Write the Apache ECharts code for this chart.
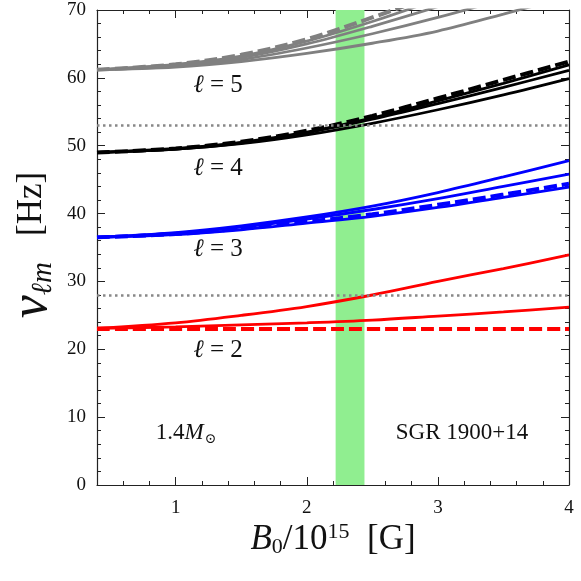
<!DOCTYPE html>
<html>
<head>
<meta charset="utf-8">
<script src="https://cdn.jsdelivr.net/npm/echarts@6/dist/echarts.min.js"></script>
<style>
  html, body { margin: 0; padding: 0; background: #fff; }
  #main { width: 581px; height: 581px; }
</style>
</head>
<body>
<div id="main"></div>
<script>
// field strength B0 / 1e15 G
var B0 = [0.4, 1.0, 1.5, 2.0, 2.5, 3.0, 3.5, 4.0];

// l = 2 (red)
var l2_a = [23.1, 23.9, 25.0, 26.3, 28.0, 30.0, 31.9, 33.9];
var l2_b = [23.1, 23.3, 23.6, 23.9, 24.3, 24.9, 25.5, 26.2];
var l2_dash = [23.0, 23.0, 23.0, 23.0, 23.0, 23.0, 23.0, 23.0];

// l = 3 (blue)
var l3_a = [36.5, 37.2, 38.2, 39.5, 41.1, 43.1, 45.4, 47.8];
var l3_b = [36.5, 37.1, 38.0, 39.2, 40.6, 42.2, 44.0, 45.8];
var l3_dash = [36.5, 37.0, 37.8, 38.8, 39.9, 41.3, 42.8, 44.4];
var l3_c = [36.5, 36.9, 37.6, 38.6, 39.6, 40.9, 42.4, 43.9];

// l = 4 (black)
var l4_dash = [49.0, 49.6, 50.6, 52.2, 54.4, 57.0, 59.7, 62.4];
var l4_a = [49.0, 49.6, 50.5, 52.0, 54.1, 56.6, 59.2, 61.9];
var l4_b = [49.0, 49.5, 50.4, 51.9, 53.9, 56.2, 58.6, 61.1];
var l4_c = [49.0, 49.5, 50.3, 51.6, 53.3, 55.3, 57.5, 59.9];

// l = 5 (grey)
var l5_dash = [61.2, 62.0, 63.4, 65.7, 68.9, 72.4, 76.0, 80.0];
var l5_a = [61.2, 62.0, 63.2, 65.4, 68.3, 71.6, 75.0, 78.6];
var l5_b = [61.2, 61.9, 63.0, 65.0, 67.6, 70.5, 73.6, 77.0];
var l5_c = [61.2, 61.7, 62.7, 64.4, 66.5, 68.9, 71.6, 74.5];
var l5_d = [61.2, 61.6, 62.4, 63.6, 65.1, 66.9, 69.4, 72.0];

// observed QPO frequencies (dotted) and B range of SGR 1900+14 (band)
var qpoLines = [28, 53];
var bandRange = [2.22, 2.44];

var yTicks = [0, 10, 20, 30, 40, 50, 60, 70];

var chart = echarts.init(document.getElementById('main'));

var SERIF = '"Liberation Serif", "DejaVu Serif", serif';

function pairs(ys) {
  return B0.map(function (x, i) { return [x, ys[i]]; });
}

function curve(ys, color, dashed) {
  return {
    type: 'line',
    data: pairs(ys),
    smooth: 0.35,
    symbol: 'none',
    clip: true,
    z: dashed ? 4 : 3,
    lineStyle: {
      color: color,
      width: dashed ? 4 : 2.8,
      type: dashed ? [13, 5] : 'solid'
    }
  };
}

var series = [
  {
    type: 'line',
    data: [],
    z: 1,
    markArea: {
      silent: true,
      itemStyle: { color: '#90ee90' },
      data: [[{ xAxis: bandRange[0] }, { xAxis: bandRange[1] }]]
    },
    markLine: {
      silent: true,
      symbol: 'none',
      label: { show: false },
      lineStyle: { color: '#888', width: 2.6, type: [2.5, 3.5] },
      data: qpoLines.map(function (v) { return { yAxis: v }; })
    }
  },
  curve(l2_a, '#ff0000'), curve(l2_b, '#ff0000'), curve(l2_dash, '#ff0000', true),
  curve(l3_a, '#0000ff'), curve(l3_b, '#0000ff'), curve(l3_c, '#0000ff'), curve(l3_dash, '#0000ff', true),
  curve(l4_a, '#000000'), curve(l4_b, '#000000'), curve(l4_c, '#000000'), curve(l4_dash, '#000000', true),
  curve(l5_a, '#808080'), curve(l5_b, '#808080'), curve(l5_c, '#808080'), curve(l5_d, '#808080'), curve(l5_dash, '#808080', true)
];

var axisLine = { show: true, onZero: false, lineStyle: { color: '#222', width: 1.2 } };

function xAx(pos, labels) {
  return {
    type: 'value',
    position: pos,
    min: B0[0],
    max: B0[B0.length - 1],
    splitNumber: 5,
    axisLine: axisLine,
    axisTick: { show: true, inside: true, length: 8, lineStyle: { color: '#222' } },
    minorTick: { show: true, splitNumber: 5, length: 4, lineStyle: { color: '#222' } },
    splitLine: { show: false },
    axisLabel: {
      show: labels,
      margin: 14,
      color: '#111',
      fontFamily: SERIF,
      fontSize: 19,
      formatter: function (v) { return Math.abs(v - Math.round(v)) < 1e-6 ? String(Math.round(v)) : ''; }
    }
  };
}

function yAx(pos, labels) {
  return {
    type: 'value',
    position: pos,
    min: yTicks[0],
    max: yTicks[yTicks.length - 1],
    interval: 10,
    axisLine: axisLine,
    axisTick: { show: true, inside: true, length: 8, lineStyle: { color: '#222' } },
    minorTick: { show: true, splitNumber: 5, length: 4, lineStyle: { color: '#222' } },
    splitLine: { show: false },
    axisLabel: { show: labels, margin: 11, color: '#111', fontFamily: SERIF, fontSize: 19 }
  };
}

function txt(x, y, text, rich, size) {
  return {
    type: 'text',
    x: x, y: y,
    z: 10,
    style: {
      text: text,
      rich: rich,
      fill: '#111',
      font: size + 'px ' + SERIF,
      align: 'center',
      verticalAlign: 'middle'
    }
  };
}

var ellRich = {
  l: { fontFamily: SERIF, fontSize: 25, fontStyle: 'italic' },
  t: { fontFamily: SERIF, fontSize: 25 }
};

chart.setOption({
  backgroundColor: '#fff',
  animation: false,
  grid: { left: 97, right: 12, top: 10, bottom: 96, containLabel: false },
  xAxis: [xAx('bottom', true), xAx('top', false)],
  yAxis: [yAx('left', true), yAx('right', false)],
  series: series,
  graphic: [
    txt(218, 85, '{l|ℓ}{t| = 5}', ellRich, 25),
    txt(218, 168, '{l|ℓ}{t| = 4}', ellRich, 25),
    txt(218, 249, '{l|ℓ}{t| = 3}', ellRich, 25),
    txt(218, 350, '{l|ℓ}{t| = 2}', ellRich, 25),
    txt(186, 433, '{t|1.4}{m|M}{s|⊙}', {
      t: { fontFamily: SERIF, fontSize: 23 },
      m: { fontFamily: SERIF, fontSize: 23, fontStyle: 'italic' },
      s: { fontFamily: SERIF, fontSize: 14, padding: [12, 0, 0, 1] }
    }, 23),
    txt(462, 433, 'SGR 1900+14', null, 23),
    txt(333, 540, '{b|B}{s|0}{t|/10}{p|15}{t|  [G]}', {
      b: { fontFamily: SERIF, fontSize: 35, fontStyle: 'italic' },
      s: { fontFamily: SERIF, fontSize: 22, padding: [15, 0, 0, 0] },
      t: { fontFamily: SERIF, fontSize: 35 },
      p: { fontFamily: SERIF, fontSize: 22, padding: [0, 0, 15, 0] }
    }, 35),
    {
      type: 'text',
      x: 32, y: 245,
      rotation: Math.PI / 2,
      z: 10,
      style: {
        text: '{n|ν}{s|ℓm}{t|   [Hz]}',
        rich: {
          n: { fontFamily: SERIF, fontSize: 52, fontStyle: 'italic' },
          s: { fontFamily: SERIF, fontSize: 29, fontStyle: 'italic', padding: [22, 0, 0, 0] },
          t: { fontFamily: SERIF, fontSize: 35 }
        },
        fill: '#111',
        align: 'center',
        verticalAlign: 'middle'
      }
    }
  ]
});
</script>
</body>
</html>
